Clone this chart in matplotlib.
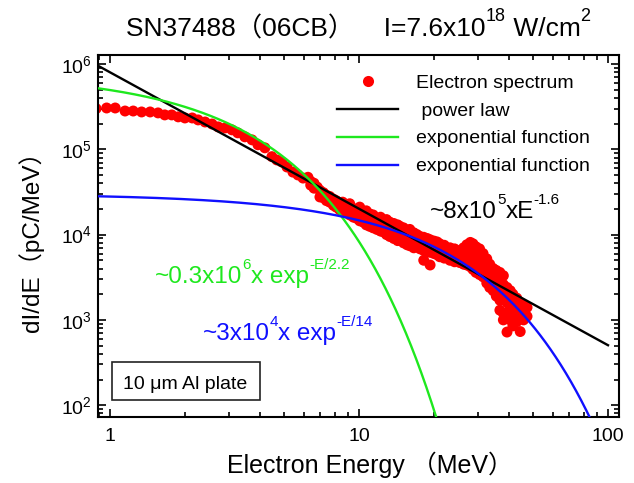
import numpy as np
import matplotlib
matplotlib.use('Agg')
import matplotlib.pyplot as plt
from matplotlib.ticker import FixedLocator, FixedFormatter, LogLocator, NullFormatter
from matplotlib.lines import Line2D
from matplotlib.patches import Rectangle

plt.rcParams['font.family'] = ['Liberation Sans', 'Noto Sans CJK SC']
plt.rcParams['mathtext.fontset'] = 'custom'
plt.rcParams['mathtext.rm'] = 'Liberation Sans'
plt.rcParams['mathtext.it'] = 'Liberation Sans:italic'
plt.rcParams['mathtext.bf'] = 'Liberation Sans:bold'
plt.rcParams['mathtext.default'] = 'regular'

# ---------------- data ----------------
energy = [
    0.88, 0.97, 1.05, 1.15, 1.24, 1.34, 1.45, 1.56, 1.66, 1.77, 1.88, 2.00,
    2.14, 2.26, 2.41, 2.57, 2.72, 2.90, 3.09, 3.26, 3.48, 3.72, 3.93, 4.19,
    4.47, 4.68, 4.90, 5.14, 5.43, 5.69, 5.96, 6.24,
    6.4, 6.4, 6.6, 6.6, 6.8, 6.97, 6.97, 7.2, 7.2, 7.4, 7.4, 7.63, 7.63,
    7.9, 7.9, 8.1, 8.1, 8.37, 8.37, 8.6, 8.6, 8.9, 8.9, 9.18, 9.18, 9.18,
    9.5, 9.5, 9.8, 9.8, 10.07, 10.07, 10.07, 10.4, 10.4, 10.7, 10.7, 10.7,
    11.04, 11.04, 11.04, 11.4, 11.4, 11.4, 11.8, 11.8, 12.2, 12.2, 12.2,
    12.5, 12.5, 12.9, 12.9, 12.9, 13.3, 13.3, 13.3, 13.8, 13.8, 13.8,
    14.3, 14.3, 14.3, 14.6, 14.6, 15.1, 15.1, 15.1, 15.6, 15.6, 15.6,
    16.0, 16.0, 16.0, 16.6, 16.6, 16.6, 17.1, 17.1, 17.1, 17.6, 17.6, 17.6,
    18.2, 18.2, 18.2, 18.2, 18.8, 18.8, 18.8, 19.3, 19.3, 19.3, 19.3,
    20.0, 20.0, 20.0, 20.6, 20.6, 20.6, 21.1, 21.1, 21.1, 22.0, 22.0, 22.0,
    23.2, 23.2, 23.2, 24.2, 24.2, 24.2, 25.4, 25.4, 25.4, 26.3, 26.3, 26.3,
    27.1, 27.1, 27.1, 27.1, 28.0, 28.0, 28.0, 28.0, 28.7, 28.7, 28.7, 28.7,
    29.5, 29.5, 29.5, 29.5, 30.5, 30.5, 30.5, 30.5, 31.5, 31.5, 31.5, 31.5,
    32.6, 32.6, 32.6, 32.6, 33.5, 33.5, 33.5, 33.5, 34.6, 34.6, 34.6, 34.6,
    35.6, 35.6, 35.6, 35.6, 36.8, 36.8, 36.8, 36.8, 36.8,
    38.0, 38.0, 38.0, 38.0, 38.0, 39.3, 39.3, 39.3, 39.3, 39.3,
    40.5, 40.5, 40.5, 40.5, 41.5, 41.5, 41.5, 41.5, 43.0, 43.0, 43.0, 43.0,
    44.4, 44.4, 44.4, 44.4, 45.8, 45.8, 45.8, 47.3, 47.3,
]
charge = [
    3.0e5, 3.05e5, 3.05e5, 2.81e5, 2.81e5, 2.74e5, 2.74e5, 2.67e5, 2.53e5, 2.53e5, 2.40e5, 2.33e5,
    2.33e5, 2.21e5, 2.09e5, 1.98e5, 1.83e5, 1.78e5, 1.69e5, 1.56e5, 1.40e5, 1.29e5, 1.13e5, 1.04e5,
    8.2e4, 7.5e4, 7.1e4, 6.2e4, 5.4e4, 5.0e4, 4.6e4, 4.7e4,
    4.2e4, 3.8e4, 4.0e4, 3.5e4, 3.6e4, 2.76e4, 3.3e4, 2.7e4, 3.1e4, 2.9e4, 2.5e4, 2.8e4, 2.4e4,
    2.6e4, 2.2e4, 2.5e4, 2.1e4, 2.3e4, 1.95e4, 2.4e4, 2.0e4, 2.1e4, 1.8e4, 2.0e4, 1.7e4, 2.3e4,
    1.9e4, 1.6e4, 2.0e4, 1.55e4, 1.8e4, 1.45e4, 2.1e4, 1.7e4, 1.4e4, 1.6e4, 1.9e4, 1.3e4,
    1.5e4, 1.75e4, 1.25e4, 1.45e4, 1.2e4, 1.7e4, 1.4e4, 1.15e4, 1.35e4, 1.6e4, 1.1e4,
    1.3e4, 1.08e4, 1.25e4, 1.5e4, 1.0e4, 1.2e4, 9.5e3, 1.4e4, 1.15e4, 9.0e3, 1.35e4,
    1.1e4, 1.3e4, 8.5e3, 1.05e4, 1.25e4, 1.0e4, 1.2e4, 8.0e3, 9.5e3, 1.1e4, 7.6e3,
    9.0e3, 1.15e4, 7.4e3, 8.8e3, 1.05e4, 7.0e3, 8.5e3, 1.0e4, 7.2e3, 8.2e3, 9.5e3, 6.8e3,
    8.0e3, 9.3e3, 6.5e3, 5.0e3, 7.8e3, 9.0e3, 6.3e3, 7.5e3, 8.7e3, 6.2e3, 4.4e3,
    7.2e3, 8.4e3, 6.0e3, 7.0e3, 8.2e3, 5.8e3, 6.8e3, 5.5e3, 7.8e3, 6.5e3, 5.3e3, 7.5e3,
    6.2e3, 5.0e3, 7.0e3, 6.0e3, 4.8e3, 6.8e3, 5.8e3, 4.7e3, 6.5e3, 5.5e3, 4.5e3, 7.0e3,
    5.2e3, 4.4e3, 7.6e3, 6.3e3, 5.0e3, 4.2e3, 8.1e3, 6.8e3, 4.8e3, 3.9e3, 7.8e3, 6.0e3,
    4.6e3, 3.6e3, 7.2e3, 5.5e3, 4.4e3, 3.4e3, 6.8e3, 5.2e3, 4.2e3, 3.2e3, 6.0e3, 3.8e3,
    3.9e3, 3.0e3, 5.2e3, 2.7e3, 3.6e3, 2.8e3, 4.5e3, 2.4e3, 3.4e3, 2.6e3, 4.0e3, 2.2e3,
    3.2e3, 2.2e3, 3.8e3, 1.9e3, 2.9e3, 2.0e3, 3.6e3, 1.7e3, 1.3e3,
    2.6e3, 1.8e3, 3.3e3, 1.2e3, 1.0e3, 2.4e3, 1.6e3, 2.0e3, 1.1e3, 7.2e2,
    2.2e3, 1.4e3, 1.8e3, 1.0e3, 2.0e3, 1.3e3, 1.6e3, 8.5e2, 1.8e3, 1.2e3, 1.5e3, 9.5e2,
    1.6e3, 1.1e3, 1.3e3, 7.3e2, 1.5e3, 1.0e3, 1.25e3, 1.4e3, 1.1e3,
]

# fit parameters
power_amp, power_index = 8.0e5, -1.6
exp1_amp, exp1_temp = 7.8e5, 2.2
exp2_amp, exp2_temp = 3.0e4, 14.0

x_ticks = [1, 10, 100]
x_tick_labels = ['1', '10', '100']
y_ticks = [1e2, 1e3, 1e4, 1e5, 1e6]
y_tick_labels = [r'$10^{2}$', r'$10^{3}$', r'$10^{4}$', r'$10^{5}$', r'$10^{6}$']
legend_labels = ['Electron spectrum', ' power law', 'exponential function', 'exponential function']

# ---------------- figure ----------------
W, H = 634, 483
fig = plt.figure(figsize=(W / 100, H / 100), dpi=100)
L, R, T, B = 97.7, 619.0, 55.0, 417.0
ax = fig.add_axes([L / W, 1 - B / H, (R - L) / W, (B - T) / H])
ax.set_xscale('log')
ax.set_yscale('log')
ax.set_xlim(0.893, 110.7)
ax.set_ylim(72.7, 1.275e6)

RED = '#ff0000'
GREEN = '#1ee81e'
BLUE = '#1010ff'

ax.scatter(energy, charge, s=62, color=RED, edgecolors='none', zorder=2)

e_curve = np.logspace(np.log10(0.893), 2, 400)
ax.plot(e_curve, power_amp * e_curve ** power_index, color='black', lw=1.7, zorder=3)
ax.plot(e_curve, exp1_amp * np.exp(-e_curve / exp1_temp), color=GREEN, lw=1.7, zorder=3)
ax.plot(e_curve, exp2_amp * np.exp(-e_curve / exp2_temp), color=BLUE, lw=1.7, zorder=3)

ax.xaxis.set_major_locator(FixedLocator(x_ticks))
ax.xaxis.set_major_formatter(FixedFormatter(x_tick_labels))
ax.xaxis.set_minor_locator(LogLocator(base=10, subs=np.arange(2, 10)))
ax.xaxis.set_minor_formatter(NullFormatter())
ax.yaxis.set_major_locator(FixedLocator(y_ticks))
ax.yaxis.set_major_formatter(FixedFormatter(y_tick_labels))
ax.yaxis.set_minor_locator(LogLocator(base=10, subs=np.arange(2, 10)))
ax.yaxis.set_minor_formatter(NullFormatter())

ax.tick_params(which='both', direction='in', top=True, right=True, width=1.2)
ax.tick_params(which='major', length=6, labelsize=14)
ax.tick_params(which='minor', length=3.5)
ax.tick_params(axis='x', which='major', pad=8)
ax.tick_params(axis='y', which='major', pad=4)
for sp in ax.spines.values():
    sp.set_linewidth(1.5)

ax.set_xlabel('Electron Energy （MeV）', fontsize=18)
ax.xaxis.set_label_coords((370 - L) / (R - L), -(465 - B) / (B - T), transform=ax.transAxes)
ax.xaxis.label.set_va('center')
ax.set_ylabel('dI/dE（pC/MeV）', fontsize=17.5, labelpad=12)

handles = [
    Line2D([], [], marker='o', ls='none', color=RED, markersize=8, markeredgewidth=0),
    Line2D([], [], color='black', lw=1.7),
    Line2D([], [], color=GREEN, lw=1.7),
    Line2D([], [], color=BLUE, lw=1.7),
]
ax.legend(handles, legend_labels, loc='upper left', frameon=False, fontsize=14,
          bbox_to_anchor=((337 - L) / (R - L), (B - 74) / (B - T)),
          borderpad=0, borderaxespad=0, handlelength=3.15, handletextpad=0.9,
          labelspacing=0.53)


def rich(px, py, pieces, color):
    """pieces: (text, fontsize, baseline rise in points)"""
    s0, f0, r0 = pieces[0]
    prev = fig.text(px / W, 1 - py / H, s0, fontsize=f0, color=color,
                    ha='left', va='baseline')
    prev_b = r0 - 0.21 * f0
    for s, f, r in pieces[1:]:
        b = r - 0.21 * f
        prev = ax.annotate(s, xy=(1, 0), xycoords=prev, xytext=(0, b - prev_b),
                           textcoords='offset points', ha='left', va='bottom',
                           fontsize=f, color=color, annotation_clip=False)
        prev_b = b


rich(126, 36, [('SN37488（06CB）    I=7.6x10', 19, 0), ('18', 13, 10.5),
               (' W/cm', 19, 0), ('2', 13, 10.5)], 'black')
rich(430, 218, [('~8x10', 17.5, 0), ('5', 11, 10.5), ('xE', 17.5, 0), ('-1.6', 11, 10.5)], 'black')
rich(155, 283, [('~0.3x10', 17.5, 0), ('6', 11, 10.5), ('x exp', 17.5, 0), ('-E/2.2', 11, 10.5)], GREEN)
rich(203, 340, [('~3x10', 17.5, 0), ('4', 11, 10.5), ('x exp', 17.5, 0), ('-E/14', 11, 10.5)], BLUE)

ax.add_patch(Rectangle(((112 - L) / (R - L), (B - 400) / (B - T)),
                       (260 - 112) / (R - L), (400 - 362) / (B - T),
                       transform=ax.transAxes, fill=False, lw=1.2, ec='#222222', zorder=4))
fig.text(123 / W, 1 - 389 / H, '10 μm Al plate', fontsize=14, ha='left', va='baseline')

fig.savefig('out.png', dpi=100)
